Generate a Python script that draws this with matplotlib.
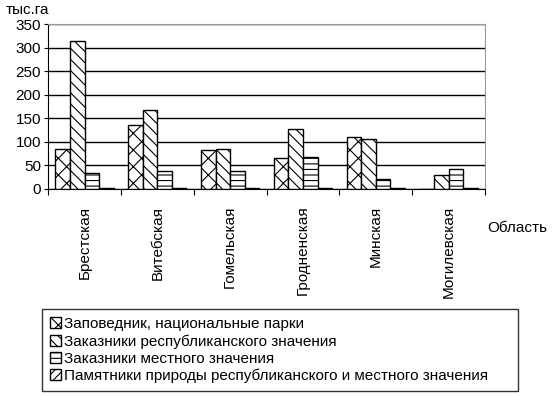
import matplotlib
matplotlib.use("Agg")
import matplotlib.pyplot as plt
import numpy as np

plt.rcParams['font.family'] = ['Liberation Sans', 'DejaVu Sans']
plt.rcParams['hatch.linewidth'] = 0.8

regions = ['Брестская', 'Витебская', 'Гомельская', 'Гродненская', 'Минская', 'Могилевская']
series_names = ['Заповедник, национальные парки',
                'Заказники республиканского значения',
                'Заказники местного значения',
                'Памятники природы республиканского и местного значения']
reserves = [85, 135, 83, 65, 110, 0]
rep_zakazniki = [315, 167, 85, 127, 107, 30]
local_zakazniki = [33, 37, 39, 68, 22, 42]
monuments = [2, 2, 2, 2, 2, 2]
yticks = [0, 50, 100, 150, 200, 250, 300, 350]

data = [reserves, rep_zakazniki, local_zakazniki, monuments]
hatches = ['xx', '\\\\\\', '---', '////']

fig = plt.figure(figsize=(5.6, 3.96), dpi=100)
ax = fig.add_axes([0.086, 0.523, 0.78, 0.416])

x = np.arange(len(regions))
w = 0.2
for i, vals in enumerate(data):
    ax.bar(x - 0.3 + i * w, vals, w, color='white', edgecolor='black',
           hatch=hatches[i], linewidth=1, label=series_names[i], zorder=3)

ax.set_xlim(-0.5, len(regions) - 0.5)
ax.set_ylim(0, 350)
ax.set_yticks(yticks)
ax.yaxis.grid(True, color='black', linewidth=1, zorder=0)
ax.tick_params(axis='y', labelsize=11, length=3, direction='out', pad=2)

ax.set_xticks(np.arange(len(regions) + 1) - 0.5)
ax.set_xticklabels([])
ax.set_xticks(x, minor=True)
ax.set_xticklabels(regions, minor=True, rotation=90, fontsize=11, va='top')
ax.tick_params(axis='x', which='minor', length=0, pad=12)
ax.tick_params(axis='x', which='major', length=4)

for s in ['top', 'right']:
    ax.spines[s].set_color('#999999')
ax.spines['left'].set_color('black')
ax.spines['bottom'].set_color('black')

fig.text(0.01, 0.975, 'тыс.га', fontsize=11, va='center')
fig.text(0.87, 0.425, 'Область', fontsize=11, va='center')

leg = fig.legend(loc='lower left', bbox_to_anchor=(0.062, -0.006, 0.876, 0.215),
                 mode='expand', fontsize=11, frameon=True, fancybox=False,
                 handlelength=0.7, handleheight=0.7, handletextpad=0.2,
                 labelspacing=0.2, borderpad=0.5)
leg.get_frame().set_edgecolor('black')
leg.get_frame().set_linewidth(1)

fig.savefig('out.png', dpi=100)
